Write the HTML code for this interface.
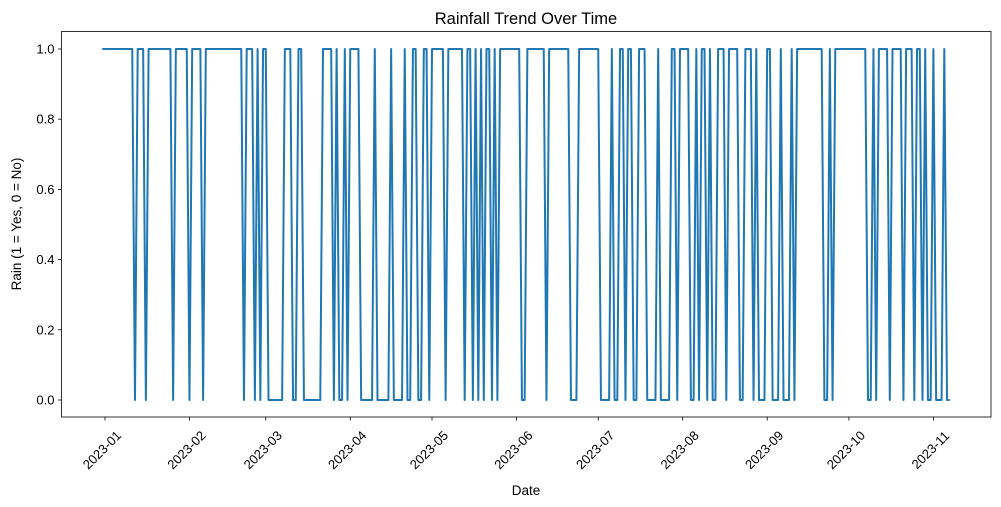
<!DOCTYPE html>
<html><head><meta charset="utf-8">
<style>
html,body{margin:0;padding:0;background:#fff;}
svg{display:block;font-family:"Liberation Sans","DejaVu Sans",sans-serif;}
</style></head>
<body>
<svg id="chart" width="1001" height="507" viewBox="0 0 1001 507" xmlns="http://www.w3.org/2000/svg">
<rect width="1001" height="507" fill="#fff"/>
<text x="526" y="24" text-anchor="middle" font-size="16.5" fill="#000">Rainfall Trend Over Time</text>
<text x="526" y="495" text-anchor="middle" font-size="13.5" fill="#000">Date</text>
<text transform="translate(21,224) rotate(-90)" text-anchor="middle" font-size="13.5" fill="#000">Rain (1 = Yes, 0 = No)</text>
<g id="plot"></g>
</svg>
<script>
const startDate = "2022-12-31";
const rain = [
1,1,1,1,1,1,1,1,1,1,1,1,
0,1,1,1,0,1,1,1,1,1,1,1,1,1,0,1,1,1,1,1,0,1,1,1,1,0,
1,1,1,1,1,1,1,1,1,1,1,1,1,1,
0,1,1,1,0,1,0,1,1,
0,0,0,0,0,0,1,1,1,0,0,1,1,
0,0,0,0,0,0,0,1,1,1,1,
0,1,0,0,1,0,1,1,1,1,
0,0,0,0,0,1,0,0,0,0,0,1,0,0,0,0,
1,0,0,1,1,0,0,1,1,0,
1,1,1,1,1,0,1,1,1,1,1,1,
0,1,1,0,1,0,1,0,1,1,0,1,0,
1,1,1,1,1,1,1,1,0,0,1,1,1,1,1,1,1,0,
1,1,1,1,1,1,1,1,0,0,0,1,1,1,1,1,1,1,1,0,0,0,0,
1,0,0,1,1,0,1,1,0,0,1,1,1,0,0,0,0,1,0,0,0,0,
1,1,0,1,1,1,1,0,0,1,0,1,1,0,1,0,0,1,1,1,0,1,1,1,1,0,0,1,1,1,0,1,0,0,0,1,1,0,0,0,1,0,0,0,1,0,
1,1,1,1,1,1,1,1,1,1,
0,0,1,0,
1,1,1,1,1,1,1,1,1,1,1,1,
0,0,1,0,1,1,1,1,0,1,1,1,1,0,1,1,1,0,1,1,0,1,0,0,1,0,0,0,1,0,0
];
const tickLabels = ["2023-01","2023-02","2023-03","2023-04","2023-05","2023-06","2023-07","2023-08","2023-09","2023-10","2023-11"];
const yTicks = [0.0,0.2,0.4,0.6,0.8,1.0];

const NS = "http://www.w3.org/2000/svg";
const g = document.getElementById("plot");
const L = 61.5, R = 991, T = 31.5, B = 417;
const t0 = Date.UTC(2023,0,1), DAY = 86400000;
function xDate(ms){ return 105 + (ms - t0)/DAY * 2.725; }
function yScale(v){ return 400 - v * 351; }
function mk(tag, attrs){ const e = document.createElementNS(NS, tag); for (const k in attrs) e.setAttribute(k, attrs[k]); return e; }

const sp = startDate.split("-").map(Number);
const s0 = Date.UTC(sp[0], sp[1]-1, sp[2]);
let d = "";
rain.forEach((v,i)=>{ const x = xDate(s0 + i*DAY), y = yScale(v); d += (i? "L":"M") + x.toFixed(2) + "," + y.toFixed(2); });
const line = mk("path", {d: d, fill: "none", stroke: "#1f77b4", "stroke-width": "2", "stroke-linejoin": "round"});


g.appendChild(line);

yTicks.forEach(v=>{
  const y = yScale(v);
  const tk = mk("line", {x1: L-3.5, x2: L, y1: y, y2: y, stroke: "#000", "stroke-width": "0.8"});
  
  
  g.appendChild(tk);
  const tx = mk("text", {x: L-7, y: y+4.5, "text-anchor": "end", "font-size": "13", fill: "#000"});
  
  
  tx.textContent = v.toFixed(1);
  g.appendChild(tx);
});

tickLabels.forEach(lbl=>{
  const p = lbl.split("-").map(Number);
  const x = xDate(Date.UTC(p[0], p[1]-1, 1));
  const tk = mk("line", {x1: x, x2: x, y1: B, y2: B+3.5, stroke: "#000", "stroke-width": "0.8"});
  
  
  g.appendChild(tk);
  const tx = mk("text", {x: 0, y: 0, "text-anchor": "middle", "dominant-baseline": "central", "font-size": "13", fill: "#000", transform: "translate(" + (x-3) + ",450) rotate(-45)"});
  
  
  tx.textContent = lbl;
  g.appendChild(tx);
});

const frame = mk("rect", {x: L, y: T, width: R-L, height: B-T, fill: "none", stroke: "#000", "stroke-width": "0.8"});


g.appendChild(frame);
</script>
</body></html>
